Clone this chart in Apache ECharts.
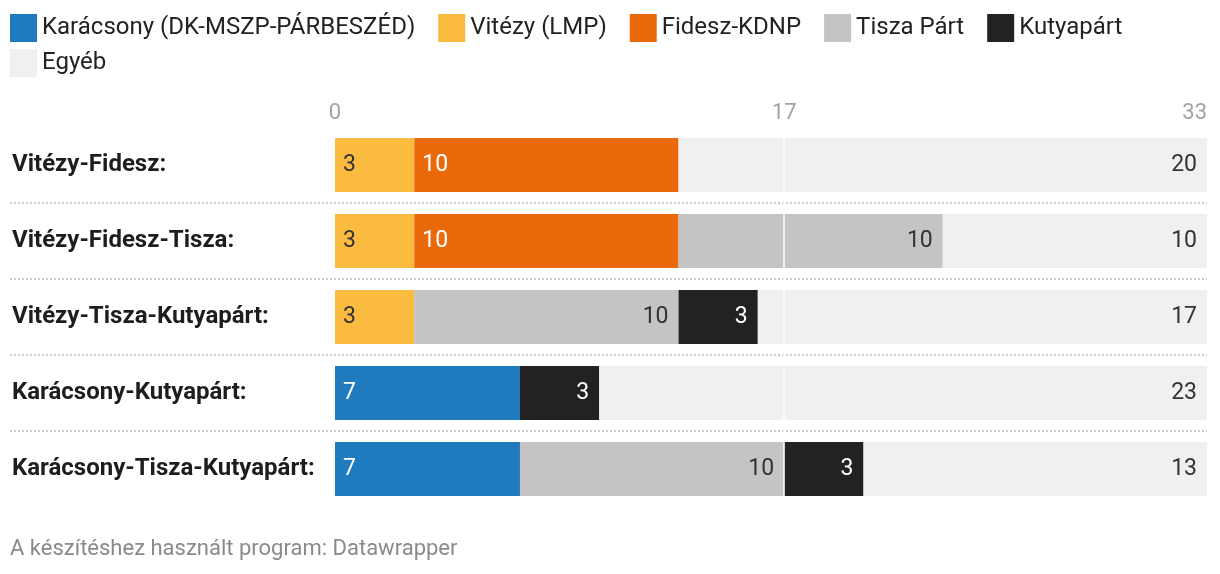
<!DOCTYPE html>
<html>
<head>
<meta charset="utf-8">
<script src="https://cdn.jsdelivr.net/npm/echarts@6/dist/echarts.min.js"></script>
<style>html,body{margin:0;padding:0;background:#fff}#c{width:1220px;height:574px}</style>
</head>
<body>
<div id="c"></div>
<script>
const categories = ['Vitézy-Fidesz:', 'Vitézy-Fidesz-Tisza:', 'Vitézy-Tisza-Kutyapárt:', 'Karácsony-Kutyapárt:', 'Karácsony-Tisza-Kutyapárt:'];
const karacsony = [0, 0, 0, 7, 7];
const vitezy = [3, 3, 3, 0, 0];
const fidesz = [10, 10, 0, 0, 0];
const tisza = [0, 10, 10, 0, 10];
const kutya = [0, 0, 3, 3, 3];
const egyeb = [20, 10, 17, 23, 13];
const tickValues = [0, 17, 33];
const seriesNames = ['Karácsony (DK-MSZP-PÁRBESZÉD)', 'Vitézy (LMP)', 'Fidesz-KDNP', 'Tisza Párt', 'Kutyapárt', 'Egyéb'];

const FONT = 'Roboto, "Noto Sans", sans-serif';
const colors = ['#1f7bbd', '#fbbb40', '#ea6a0b', '#c4c4c4', '#222222', '#f0f0f0'];
const labelColors = ['#ffffff', '#333333', '#ffffff', '#333333', '#ffffff', '#333333'];
const labelPos = ['insideLeft', 'insideLeft', 'insideLeft', 'insideRight', 'insideRight', 'insideRight'];
const values = [karacsony, vitezy, fidesz, tisza, kutya, egyeb];

const series = values.map((arr, i) => {
  const s = {
    name: seriesNames[i],
    type: 'bar',
    stack: 'total',
    barWidth: 54,
    data: arr,
    itemStyle: { color: colors[i] },
    emphasis: { disabled: true },
    label: {
      show: true,
      position: labelPos[i],
      distance: labelPos[i] === 'insideLeft' ? 8 : 10,
      color: labelColors[i],
      fontFamily: FONT,
      fontSize: 23,
      formatter: p => (p.value ? String(p.value) : '')
    }
  };
  if (i === values.length - 1) {
    s.markLine = {
      silent: true,
      symbol: 'none',
      z: 10,
      label: { show: false },
      lineStyle: { color: '#ffffff', width: 1.5, type: 'solid' },
      data: [{ xAxis: tickValues[1] }]
    };
  }
  return s;
});

const chart = echarts.init(document.getElementById('c'), null, { renderer: 'canvas' });
chart.setOption({
  animation: false,
  backgroundColor: '#ffffff',
  textStyle: { fontFamily: FONT },
  legend: [
    {
      data: seriesNames.slice(0, 5),
      left: 10, top: 14, padding: 0,
      icon: 'rect', itemWidth: 27, itemHeight: 28, itemGap: 23, textGap: 6,
      textStyle: { fontFamily: FONT, fontSize: 24, color: '#222222' },
      selectedMode: false
    },
    {
      data: seriesNames.slice(5),
      left: 10, top: 49, padding: 0,
      icon: 'rect', itemWidth: 27, itemHeight: 28, itemGap: 23, textGap: 6,
      textStyle: { fontFamily: FONT, fontSize: 24, color: '#222222' },
      selectedMode: false
    }
  ],
  title: {
    text: 'A készítéshez használt program: Datawrapper',
    left: 10, top: 538, padding: 0,
    textStyle: { fontFamily: FONT, fontSize: 22, fontWeight: 'normal', color: '#8a8a8a' }
  },
  grid: { left: 10, right: 13, top: 127, height: 380, containLabel: false },
  xAxis: {
    type: 'value',
    position: 'top',
    min: -12.3,
    max: 33,
    axisLine: { show: false },
    axisTick: { show: false },
    splitLine: { show: false },
    axisLabel: {
      customValues: tickValues,
      alignMinLabel: 'center',
      alignMaxLabel: 'right',
      margin: 3,
      color: '#a3a3a3',
      fontFamily: FONT,
      fontSize: 22
    }
  },
  yAxis: {
    type: 'category',
    data: categories,
    inverse: true,
    axisLine: { show: false },
    axisTick: { show: false },
    splitLine: {
      show: true,
      showMinLine: false,
      showMaxLine: false,
      lineStyle: { color: '#cccccc', width: 2, type: [2, 2] }
    },
    axisLabel: {
      inside: true,
      margin: 2,
      color: '#1d1d1d',
      fontFamily: FONT,
      fontSize: 24,
      fontWeight: 'bold'
    }
  },
  series: series
});
</script>
</body>
</html>
